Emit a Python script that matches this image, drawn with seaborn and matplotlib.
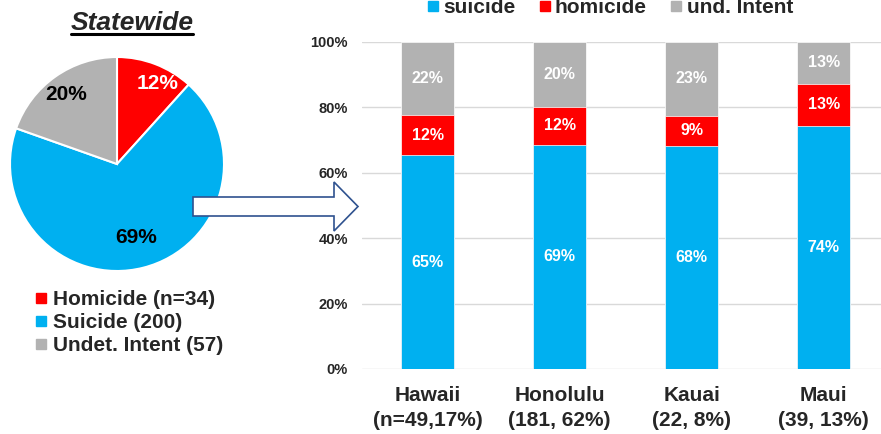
import numpy as np
import pandas as pd
import matplotlib.pyplot as plt
from matplotlib.lines import Line2D
from matplotlib.patches import Polygon
import seaborn as sns

sns.set_style("whitegrid")
plt.rcParams["font.family"] = ["Liberation Sans", "DejaVu Sans"]
plt.rcParams["font.weight"] = "bold"

# statewide counts
pie_labels = ["Homicide (n=34)", "Suicide (200)", "Undet. Intent (57)"]
pie_counts = [34, 200, 57]

# county counts
counties = ["Hawaii", "Honolulu", "Kauai", "Maui"]
county_ticks = ["Hawaii\n(n=49,17%)", "Honolulu\n(181, 62%)", "Kauai\n(22, 8%)", "Maui\n(39, 13%)"]
suicide = np.array([32, 124, 15, 29])
homicide = np.array([6, 21, 2, 5])
undet = np.array([11, 36, 5, 5])

BLUE, RED, GRAY = "#00B0F0", "#FF0000", "#B2B2B2"

total = suicide + homicide + undet
df = pd.DataFrame({
    "county": counties,
    "suicide": 100 * suicide / total,
    "homicide": 100 * homicide / total,
    "undet": 100 * undet / total,
})
df["top_hom"] = df["suicide"] + df["homicide"]
df["top_und"] = df["top_hom"] + df["undet"]

W, H = 881, 434
fig = plt.figure(figsize=(W / 100, H / 100), dpi=100)

# ---- pie ----
axp = fig.add_axes([10 / W, (H - 271) / H, 214 / W, 214 / H])
wedges, _ = axp.pie(pie_counts, colors=[RED, BLUE, GRAY], startangle=90, counterclock=False,
                    wedgeprops=dict(edgecolor="white", linewidth=1.5))
axp.set_xlim(-1, 1)
axp.set_ylim(-1, 1)
axp.set_aspect("equal")
pie_pct = 100 * np.array(pie_counts) / sum(pie_counts)
for w, p, r, da, c in zip(wedges, pie_pct, [0.84, 0.71, 0.80], [-6, 0, 1], ["white", "black", "black"]):
    ang = np.deg2rad((w.theta1 + w.theta2) / 2 + da)
    axp.text(r * np.cos(ang), r * np.sin(ang), f"{p:.0f}%", ha="center", va="center",
             fontsize=15, fontweight="bold", color=c)

title = fig.text(132 / W, 1 - 29.5 / H, "Statewide", ha="center", va="baseline",
                 fontsize=19, fontweight="bold", fontstyle="italic")
fig.canvas.draw()
bb = title.get_window_extent().transformed(fig.transFigure.inverted())
uy = 1 - 33.5 / H
fig.add_artist(Line2D([bb.x0, bb.x1], [uy, uy], color="black", lw=2.2, transform=fig.transFigure))

pie_handles = [Line2D([], [], marker="s", ls="", color=c, markersize=6.5) for c in [RED, BLUE, GRAY]]
fig.legend(pie_handles, pie_labels, loc="upper left", bbox_to_anchor=(36 / W, 1 - 290 / H),
           frameon=False, handlelength=0.5, handletextpad=0.3, labelspacing=0.2,
           borderpad=0, borderaxespad=0, prop=dict(weight="bold", size=15))

# ---- stacked bars ----
ax = fig.add_axes([361.7 / W, (H - 369) / H, 528 / W, 327.3 / H])
sns.barplot(data=df, x="county", y="top_und", color=GRAY, width=0.4, saturation=1,
            edgecolor="white", linewidth=0.5, ax=ax)
sns.barplot(data=df, x="county", y="top_hom", color=RED, width=0.4, saturation=1,
            edgecolor="white", linewidth=0.5, ax=ax)
sns.barplot(data=df, x="county", y="suicide", color=BLUE, width=0.4, saturation=1,
            edgecolor="white", linewidth=0.5, ax=ax)

for i, row in df.iterrows():
    ax.text(i, row["suicide"] / 2, f"{row['suicide']:.0f}%", ha="center", va="center",
            color="white", fontsize=11.5, fontweight="bold")
    ax.text(i, row["suicide"] + row["homicide"] / 2, f"{row['homicide']:.0f}%", ha="center",
            va="center", color="white", fontsize=11.5, fontweight="bold")
    ax.text(i, row["top_hom"] + row["undet"] / 2, f"{row['undet']:.0f}%", ha="center",
            va="center", color="white", fontsize=11.5, fontweight="bold")

ax.set_xlim(-0.5, 3.5)
ax.set_ylim(0, 100)
ax.set_yticks(range(0, 101, 20))
ax.set_yticklabels([f"{v}%" for v in range(0, 101, 20)], fontsize=10.5, fontweight="bold")
ax.set_xticks(range(len(counties)))
ax.set_xticklabels(county_ticks, fontsize=15, fontweight="bold", linespacing=1.45)
ax.set_xlabel("")
ax.set_ylabel("")
ax.tick_params(axis="y", length=0, pad=10)
ax.tick_params(axis="x", length=0, pad=12)
ax.xaxis.grid(False)
ax.yaxis.grid(True, color="#D9D9D9", lw=1)
ax.set_axisbelow(True)
sns.despine(ax=ax, left=True, bottom=True)

bar_handles = [Line2D([], [], marker="s", ls="", color=c, markersize=7.2) for c in [BLUE, RED, GRAY]]
fig.legend(bar_handles, ["suicide", "homicide", "und. Intent"], loc="upper left", ncol=3,
           bbox_to_anchor=(427.5 / W, 1 + 2 / H), frameon=False, handlelength=0.5,
           handletextpad=0.25, columnspacing=1.15, borderpad=0, borderaxespad=0,
           prop=dict(weight="bold", size=15))

# block arrow from pie to bars
pts = [(193, 197), (334, 197), (334, 182), (358, 206.5), (334, 231), (334, 216), (193, 216)]
arrow = Polygon([(x / W, 1 - y / H) for x, y in pts], closed=True, transform=fig.transFigure,
                facecolor="white", edgecolor="#2F528F", lw=1.2, zorder=5)
fig.add_artist(arrow)

fig.savefig("out.png", dpi=100)
